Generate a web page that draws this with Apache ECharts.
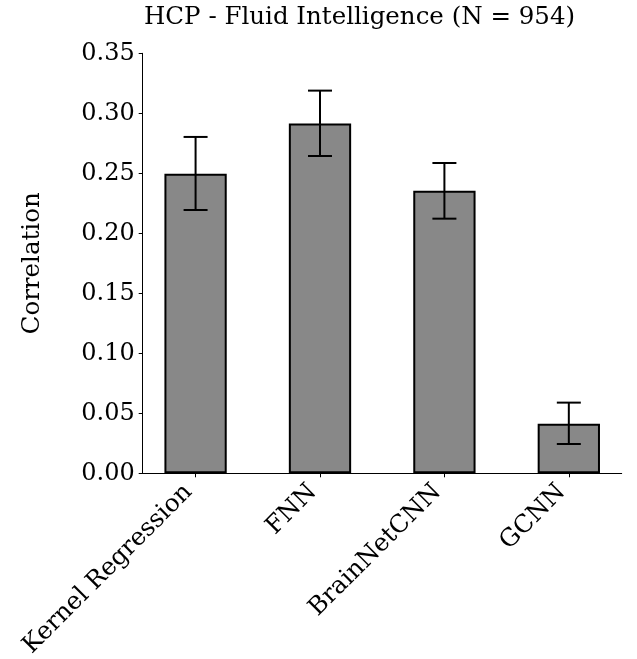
<!DOCTYPE html>
<html>
<head>
<meta charset="utf-8">
<script src="https://cdn.jsdelivr.net/npm/echarts@6/dist/echarts.min.js"></script>
<style>html,body{margin:0;padding:0;background:#fff}#c{width:637px;height:659px}</style>
</head>
<body>
<div id="c"></div>
<script>
const categories = ['Kernel Regression', 'FNN', 'BrainNetCNN', 'GCNN'];
const means = [0.2497, 0.2915, 0.2355, 0.0412];
const errLow = [0.2194, 0.2644, 0.2122, 0.0244];
const errHigh = [0.2803, 0.3189, 0.2586, 0.0589];
const yTicks = [0, 0.05, 0.10, 0.15, 0.20, 0.25, 0.30, 0.35];

const FONT = 'DejaVu Serif';
const chart = echarts.init(document.getElementById('c'), null, {renderer: 'canvas'});
const barData = means.map((v, i) => [i, v]);
const errData = means.map((v, i) => [i, errLow[i], errHigh[i]]);

chart.setOption({
  animation: false,
  backgroundColor: '#ffffff',
  title: {
    text: 'HCP - Fluid Intelligence (N = 954)',
    left: 139, top: 0,
    textStyle: {fontFamily: FONT, fontSize: 24.5, fontWeight: 'normal', color: '#000'}
  },
  grid: {left: 142.7, right: 15.3, top: 53.3, bottom: 185.7, containLabel: false, outerBoundsMode: 'none'},
  xAxis: {
    type: 'value', min: -0.425, max: 3.425,
    splitLine: {show: false},
    axisLine: {show: true, onZero: false, lineStyle: {color: '#000', width: 1}},
    axisTick: {show: true, customValues: [0, 1, 2, 3], length: 4, lineStyle: {color: '#000'}},
    axisLabel: {
      customValues: [0, 1, 2, 3], rotate: 45, margin: 8, padding: [0, 10, 0, 0],
      fontFamily: FONT, fontSize: 24.5, color: '#000',
      formatter: v => categories[Math.round(v)]
    }
  },
  yAxis: {
    type: 'value', min: 0, max: 0.35, interval: 0.05,
    name: 'Correlation', nameLocation: 'middle', nameRotate: 90, nameGap: 98,
    nameTextStyle: {fontFamily: FONT, fontSize: 24.5, color: '#000'},
    splitLine: {show: false},
    axisLine: {show: true, onZero: false, lineStyle: {color: '#000', width: 1}},
    axisTick: {show: true, length: 4, lineStyle: {color: '#000'}},
    axisLabel: {fontFamily: FONT, fontSize: 24, color: '#000', margin: 8,
      formatter: v => v.toFixed(2)}
  },
  series: [
    {
      type: 'bar', data: barData, barWidth: 62.3,
      itemStyle: {color: '#888888', borderColor: '#000', borderWidth: 2}
    },
    {
      type: 'custom', data: errData, z: 10,
      renderItem: function (params, api) {
        const x = api.value(0);
        const lo = api.coord([x, api.value(1)]);
        const hi = api.coord([x, api.value(2)]);
        const cap = 12;
        const st = {stroke: '#000', lineWidth: 2};
        return {
          type: 'group',
          children: [
            {type: 'line', shape: {x1: lo[0], y1: lo[1], x2: hi[0], y2: hi[1]}, style: st},
            {type: 'line', shape: {x1: hi[0] - cap, y1: hi[1], x2: hi[0] + cap, y2: hi[1]}, style: st},
            {type: 'line', shape: {x1: lo[0] - cap, y1: lo[1], x2: lo[0] + cap, y2: lo[1]}, style: st}
          ]
        };
      }
    }
  ]
});
</script>
</body>
</html>
